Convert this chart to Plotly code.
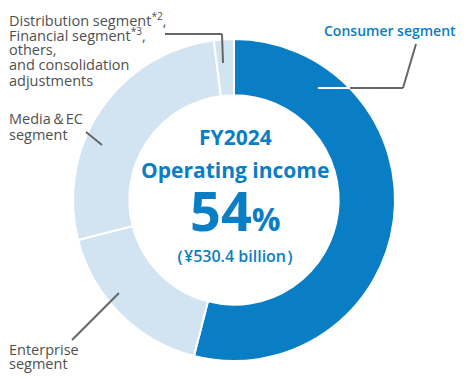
import plotly.graph_objects as go

# ---- data ----
segments = ["Consumer segment", "Enterprise segment", "Media & EC segment",
            "Distribution, Financial, others, and consolidation adjustments"]
shares = [54, 17, 27, 2]
slice_colors = ["#0A7EC4", "#D2E4F1", "#D2E4F1", "#D2E4F1"]
fiscal_year = "FY2024"
metric = "Operating income"
headline_pct = "54"
headline_amount = "（¥530.4 billion）"

W, H = 470, 380
BLUE = "#0A7EC4"
GRAY = "#505050"
FONT = "Open Sans"


def px(x):
    return x / W


def py(y):
    return 1 - y / H


cx, cy, r = 234, 200, 161

fig = go.Figure(go.Pie(
    labels=segments, values=shares, sort=False, direction="clockwise",
    rotation=0, hole=0.65, textinfo="none", hoverinfo="label+percent",
    marker=dict(colors=slice_colors, line=dict(color="white", width=2)),
    domain=dict(x=[px(cx - r), px(cx + r)], y=[py(cy + r), py(cy - r)]),
    showlegend=False,
))

shapes = []


def seg(x0, y0, x1, y1, color="#666666", width=2):
    shapes.append(dict(type="line", xref="paper", yref="paper",
                       x0=px(x0), y0=py(y0), x1=px(x1), y1=py(y1),
                       line=dict(color=color, width=width)))


# leader lines
seg(165, 34, 222, 34)
seg(222, 34, 223, 63)
seg(318, 88, 350, 88, color="white")
seg(350, 88, 403, 88)
seg(403, 88, 416, 44)
seg(86, 132, 102, 145)
seg(72, 340, 119, 293)

ann = []


def txt(x, y, s, size=14.5, color=GRAY, anchor="left", weight=500):
    ann.append(dict(x=px(x), y=py(y), xref="paper", yref="paper", text=s,
                    showarrow=False, xanchor=anchor, yanchor="middle",
                    font=dict(family=FONT, size=size, color=color, weight=weight)))


txt(7, 19, "Distribution segment<sup>*2</sup>,")
txt(7, 34.5, "Financial segment<sup>*3</sup>,")
txt(7, 50, "others,")
txt(7, 65, "and consolidation")
txt(7, 80, "adjustments")
txt(7, 119, "Media＆EC")
txt(7, 134, "segment")
txt(7, 349, "Enterprise")
txt(7, 363, "segment")
txt(458, 30, segments[0], size=14, color=BLUE, anchor="right", weight=600)

txt(cx + 1, 137, fiscal_year, size=21, color=BLUE, anchor="center", weight=700)
txt(cx + 1, 170, metric, size=21, color=BLUE, anchor="center", weight=700)
txt(cx + 1, 210, headline_pct + "<span style='font-size:32px'>%</span>",
    size=54, color=BLUE, anchor="center", weight=700)
txt(cx + 1, 256, headline_amount, size=16, color=BLUE, anchor="center", weight=600)

fig.update_layout(
    width=W, height=H, margin=dict(l=0, r=0, t=0, b=0),
    paper_bgcolor="white", plot_bgcolor="white",
    shapes=shapes, annotations=ann,
)

fig.write_html("out.html", config={"displayModeBar": False},
               post_script="document.body.style.margin='0';document.body.style.overflow='hidden';")
